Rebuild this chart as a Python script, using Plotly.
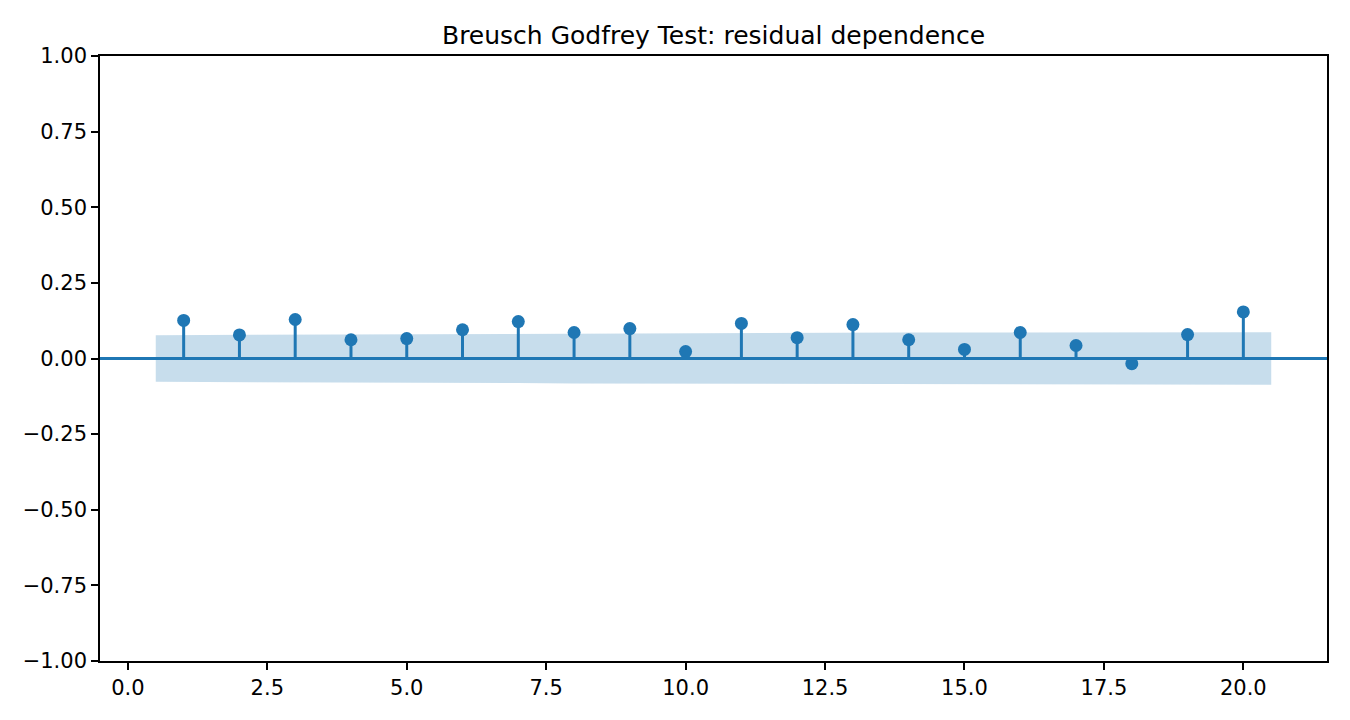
import plotly.graph_objects as go

lags = list(range(1, 21))
acf_values = [0.126, 0.078, 0.129, 0.062, 0.066, 0.095, 0.122, 0.086, 0.099, 0.023,
              0.116, 0.069, 0.112, 0.062, 0.030, 0.086, 0.043, -0.017, 0.079, 0.154]
conf_band = [0.0770, 0.0782, 0.0787, 0.0799, 0.0802, 0.0805, 0.0812, 0.0823, 0.0828, 0.0835,
             0.0835, 0.0845, 0.0848, 0.0857, 0.0859, 0.0860, 0.0865, 0.0866, 0.0867, 0.0871]
y_ticks = [-1.0, -0.75, -0.5, -0.25, 0.0, 0.25, 0.5, 0.75, 1.0]
y_tick_labels = ["\u22121.00", "\u22120.75", "\u22120.50", "\u22120.25", "0.00", "0.25", "0.50", "0.75", "1.00"]
x_ticks = [0.0, 2.5, 5.0, 7.5, 10.0, 12.5, 15.0, 17.5, 20.0]
x_tick_labels = ["0.0", "2.5", "5.0", "7.5", "10.0", "12.5", "15.0", "17.5", "20.0"]

BLUE = "#1f77b4"

# band x positions (first and last lag extended by half a lag)
band_x = list(lags)
band_x[0] = band_x[0] - 0.5
band_x[-1] = band_x[-1] + 0.5

fig = go.Figure()

fig.add_trace(go.Scatter(
    x=band_x + band_x[::-1],
    y=conf_band + [-v for v in conf_band[::-1]],
    fill="toself", fillcolor="rgba(31,119,180,0.25)",
    line=dict(width=0), mode="lines", hoverinfo="skip", showlegend=False,
))

stem_x, stem_y = [], []
for k, v in zip(lags, acf_values):
    stem_x += [k, k, None]
    stem_y += [0, v, None]
fig.add_trace(go.Scatter(x=stem_x, y=stem_y, mode="lines",
                         line=dict(color=BLUE, width=3), showlegend=False))

fig.add_shape(type="line", xref="paper", yref="y", x0=0, x1=1, y0=0, y1=0,
              line=dict(color=BLUE, width=3))

fig.add_trace(go.Scatter(x=lags, y=acf_values, mode="markers",
                         marker=dict(color=BLUE, size=13), showlegend=False))

axis_common = dict(showgrid=False, zeroline=False, showline=True, mirror=True,
                   linecolor="black", linewidth=1.6, ticks="outside", ticklen=7,
                   tickwidth=1.6, tickcolor="black",
                   tickfont=dict(family="DejaVu Sans", size=21, color="black"))

W, H = 1342, 712
fig.update_layout(
    width=W, height=H,
    margin=dict(l=92, r=23, t=48, b=59),
    paper_bgcolor="white", plot_bgcolor="white",
    title=dict(text="Breusch Godfrey Test: residual dependence", xref="paper", x=0.5,
               xanchor="center", y=1 - 27 / H, yanchor="middle",
               font=dict(family="DejaVu Sans", size=25, color="black")),
    xaxis=dict(range=[-0.5, 21.5], tickvals=x_ticks, ticktext=x_tick_labels, **axis_common),
    yaxis=dict(range=[-1.0, 1.0], tickvals=y_ticks, ticktext=y_tick_labels, **axis_common),
)

fig.write_html("out.html")
